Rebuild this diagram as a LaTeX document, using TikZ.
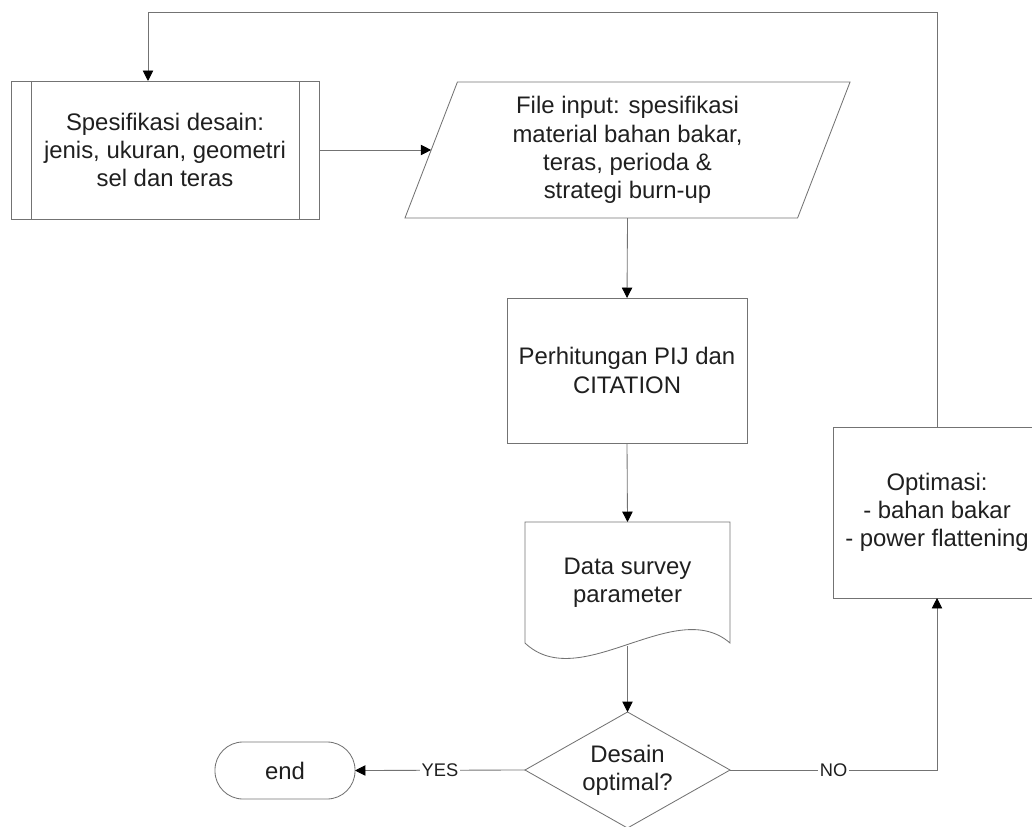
\documentclass[tikz,border=0pt]{standalone}
\usepackage{fontspec}
\setmainfont{Liberation Sans}
\usetikzlibrary{shapes.geometric,arrows.meta}

\begin{document}
\begin{tikzpicture}[x=0.025cm,y=-0.025cm]
    \tikzstyle{line}=[draw=gray!90!black,line width=0.6pt]
    \tikzstyle{arrow}=[line,-{Triangle[length=0.26cm,width=0.26cm,color=black]}]
    \tikzstyle{box}=[line,rectangle,align=center,inner sep=0pt,outer sep=0pt,
        text=black!88,font=\fontsize{17}{20}\selectfont]
    \tikzstyle{lbl}=[fill=white,inner sep=1pt,text=black!88,font=\fontsize{13}{15}\selectfont]
    \useasboundingbox (0,0) rectangle (1032,827);
    \clip (0,0) rectangle (1032,827);
    % Nodes
    \node[box,minimum width=7.7cm,minimum height=3.45cm] (spec) at (165,150)
        {Spesifikasi desain:\\jenis, ukuran, geometri\\sel dan teras};
    \draw[line] ([xshift=0.5cm]spec.north west) -- ([xshift=0.5cm]spec.south west);
    \draw[line] ([xshift=-0.5cm]spec.north east) -- ([xshift=-0.5cm]spec.south east);
    \node[box,trapezium,trapezium left angle=63.8,trapezium right angle=116.2,
        trapezium stretches body,minimum width=11.125cm,minimum height=3.4cm] (input) at (627.5,150)
        {File input: spesifikasi\\material bahan bakar,\\teras, perioda \&\\strategi burn-up};
    \node[box,minimum width=6cm,minimum height=3.625cm] (calc) at (627,370.5)
        {Perhitungan PIJ dan\\CITATION};
    \node[box,draw=none,minimum width=5.125cm,minimum height=3.025cm] (survey) at (627.5,582.5)
        {Data survey\\parameter};
    \draw[line] (survey.south west) -- (survey.north west) -- (survey.north east) -- (survey.south east)
        .. controls +(-55,-48) and +(55,52) .. (survey.south west);
    \node[box,diamond,aspect=1.77,minimum width=5.125cm,minimum height=2.9cm] (dec) at (627.5,770)
        {Desain\\optimal?};
    \node[box,rounded corners=0.7cm,minimum width=3.5cm,minimum height=1.425cm] (stop) at (285,770.5) {end};
    \node[box,minimum width=5.2cm,minimum height=4.275cm] (optim) at (937,512.5)
        {Optimasi:\\- bahan bakar\\- power flattening};
    % Connectors
    \draw[arrow] (spec.east) -- (input.left side);
    \draw[arrow] (input.south) -- (calc.north);
    \draw[arrow] (calc.south) -- (survey.north);
    \draw[arrow] ([yshift=-0.08cm]survey.south) -- (dec.north);
    \draw[arrow] (dec.west) -- node[lbl] {YES} (stop.east);
    \draw[arrow] (dec.east) -| node[lbl,pos=0.25] {NO} (optim.south);
    \coordinate (back) at (148,12);
    \draw[arrow] (optim.north) |- (back) -- (back |- spec.north);
\end{tikzpicture}
\end{document}
